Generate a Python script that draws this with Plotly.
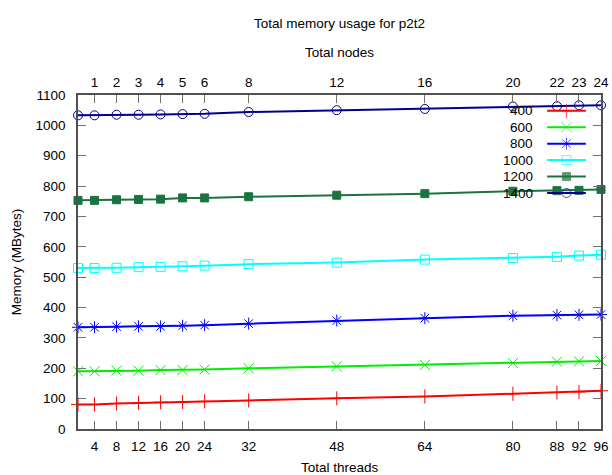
import plotly.graph_objects as go

# ---- data -------------------------------------------------------------
threads = [1, 4, 8, 12, 16, 20, 24, 32, 48, 64, 80, 88, 92, 96]
thread_ticks = [4, 8, 12, 16, 20, 24, 32, 48, 64, 80, 88, 92, 96]
node_ticks = [1, 2, 3, 4, 5, 6, 8, 12, 16, 20, 22, 23, 24]
threads_per_node = 4

series_labels = ["400", "600", "800", "1000", "1200", "1400"]
mem_400 = [81, 81, 84, 86, 88, 89, 91, 94, 101, 107, 116, 120, 122, 126]
mem_600 = [190, 190, 192, 192, 194, 194, 196, 200, 206, 211, 217, 222, 223, 224]
mem_800 = [335, 335, 337, 338, 338, 340, 342, 347, 357, 365, 373, 375, 376, 377]
mem_1000 = [530, 530, 531, 533, 534, 536, 538, 543, 548, 558, 563, 567, 571, 574]
mem_1200 = [753, 753, 755, 756, 757, 761, 761, 765, 770, 775, 783, 785, 786, 789]
mem_1400 = [1033, 1033, 1035, 1035, 1036, 1037, 1038, 1044, 1050, 1054, 1062, 1063, 1066, 1066]
series_values = [mem_400, mem_600, mem_800, mem_1000, mem_1200, mem_1400]

# ---- styling ----------------------------------------------------------
colors = ["#ff0000", "#00ee00", "#0000ff", "#00ffff", "#1b7340", "#000090"]
symbols = ["cross-thin-open", "x-thin-open", "asterisk-open",
           "square-open", "square", "circle-open"]
sizes = [10, 10, 10, 9, 8, 9]
FONT = "Liberation Sans, Arial, sans-serif"
FS = 13.5
AXIS_COLOR = "#505050"
TICK_COLOR = "#707070"

fig = go.Figure()

for label, vals, col, sym, sz in zip(series_labels, series_values, colors, symbols, sizes):
    fig.add_trace(go.Scatter(
        x=threads, y=vals, mode="lines+markers", name=label,
        line=dict(color=col, width=2),
        marker=dict(symbol=sym, size=sz, color=col, line=dict(color=col, width=1)),
        cliponaxis=False, showlegend=False,
    ))

# node axis on top (one node = four threads)
fig.add_trace(go.Scatter(
    x=[t / threads_per_node for t in threads], y=mem_400, xaxis="x2",
    mode="none", showlegend=False, hoverinfo="skip",
))

# ---- key: label on the left, line sample with marker on the right ------
key_text_x = 0.874
key_line_x0, key_line_x1 = 0.897, 0.971
key_top = 0.953
key_step = 0.0493
for i, (label, col, sym, sz) in enumerate(zip(series_labels, colors, symbols, sizes)):
    yk = key_top - i * key_step
    xm = (key_line_x0 + key_line_x1) / 2
    fig.add_trace(go.Scatter(
        x=[key_line_x0, xm, key_line_x1], y=[yk, yk, yk],
        xaxis="x3", yaxis="y3", mode="lines+markers",
        line=dict(color=col, width=2),
        marker=dict(symbol=sym, size=[0, sz, 0], color=col, line=dict(color=col, width=1)),
        showlegend=False, hoverinfo="skip", cliponaxis=False,
    ))
    fig.add_annotation(x=key_text_x, y=yk, xref="paper", yref="paper",
                       text=label, showarrow=False, xanchor="right", yanchor="middle",
                       font=dict(family=FONT, size=FS, color="black"))

# ---- titles -------------------------------------------------------------
fig.add_annotation(x=0.5, y=1.215, xref="paper", yref="paper",
                   text="Total memory usage for p2t2", showarrow=False,
                   xanchor="center", yanchor="middle",
                   font=dict(family=FONT, size=FS, color="black"))
fig.add_annotation(x=0.5, y=1.126, xref="paper", yref="paper",
                   text="Total nodes", showarrow=False,
                   xanchor="center", yanchor="middle",
                   font=dict(family=FONT, size=FS, color="black"))
fig.add_annotation(x=0.5, y=-0.115, xref="paper", yref="paper",
                   text="Total threads", showarrow=False,
                   xanchor="center", yanchor="middle",
                   font=dict(family=FONT, size=FS, color="black"))
fig.add_annotation(x=-0.118, y=0.5, xref="paper", yref="paper",
                   text="Memory (MBytes)", showarrow=False, textangle=-90,
                   xanchor="center", yanchor="middle",
                   font=dict(family=FONT, size=FS, color="black"))

tick_font = dict(family=FONT, size=FS, color="black")
fig.update_layout(
    width=612, height=475,
    margin=dict(l=78, r=3, t=95, b=45.5),
    paper_bgcolor="white", plot_bgcolor="rgba(0,0,0,0)",
    showlegend=False,
    xaxis=dict(
        range=[1, 96], tickmode="array", tickvals=thread_ticks,
        ticks="inside", ticklen=8, tickwidth=1, tickcolor=TICK_COLOR,
        showline=True, linecolor=AXIS_COLOR, linewidth=1.5, mirror=True,
        showgrid=False, zeroline=False, tickfont=tick_font, ticklabelstandoff=4,
        ticklabeloverflow="allow",
    ),
    xaxis2=dict(
        range=[1 / threads_per_node, 96 / threads_per_node], overlaying="x", side="top",
        tickmode="array", tickvals=node_ticks,
        ticks="inside", ticklen=8, tickwidth=1, tickcolor=TICK_COLOR,
        showline=False, showgrid=False, zeroline=False, tickfont=tick_font,
        ticklabelstandoff=4, ticklabeloverflow="allow",
    ),
    yaxis=dict(
        range=[0, 1100], tickmode="linear", tick0=0, dtick=100,
        ticks="inside", ticklen=8, tickwidth=1, tickcolor=TICK_COLOR,
        showline=True, linecolor=AXIS_COLOR, linewidth=1.5, mirror="ticks",
        showgrid=False, zeroline=False, tickfont=tick_font, ticklabelstandoff=8,
    ),
    xaxis3=dict(domain=[0, 1], range=[0, 1], anchor="y3", visible=False, fixedrange=True),
    yaxis3=dict(domain=[0, 1], range=[0, 1], anchor="x3", visible=False, fixedrange=True),
)

fig.write_html("out.html")
